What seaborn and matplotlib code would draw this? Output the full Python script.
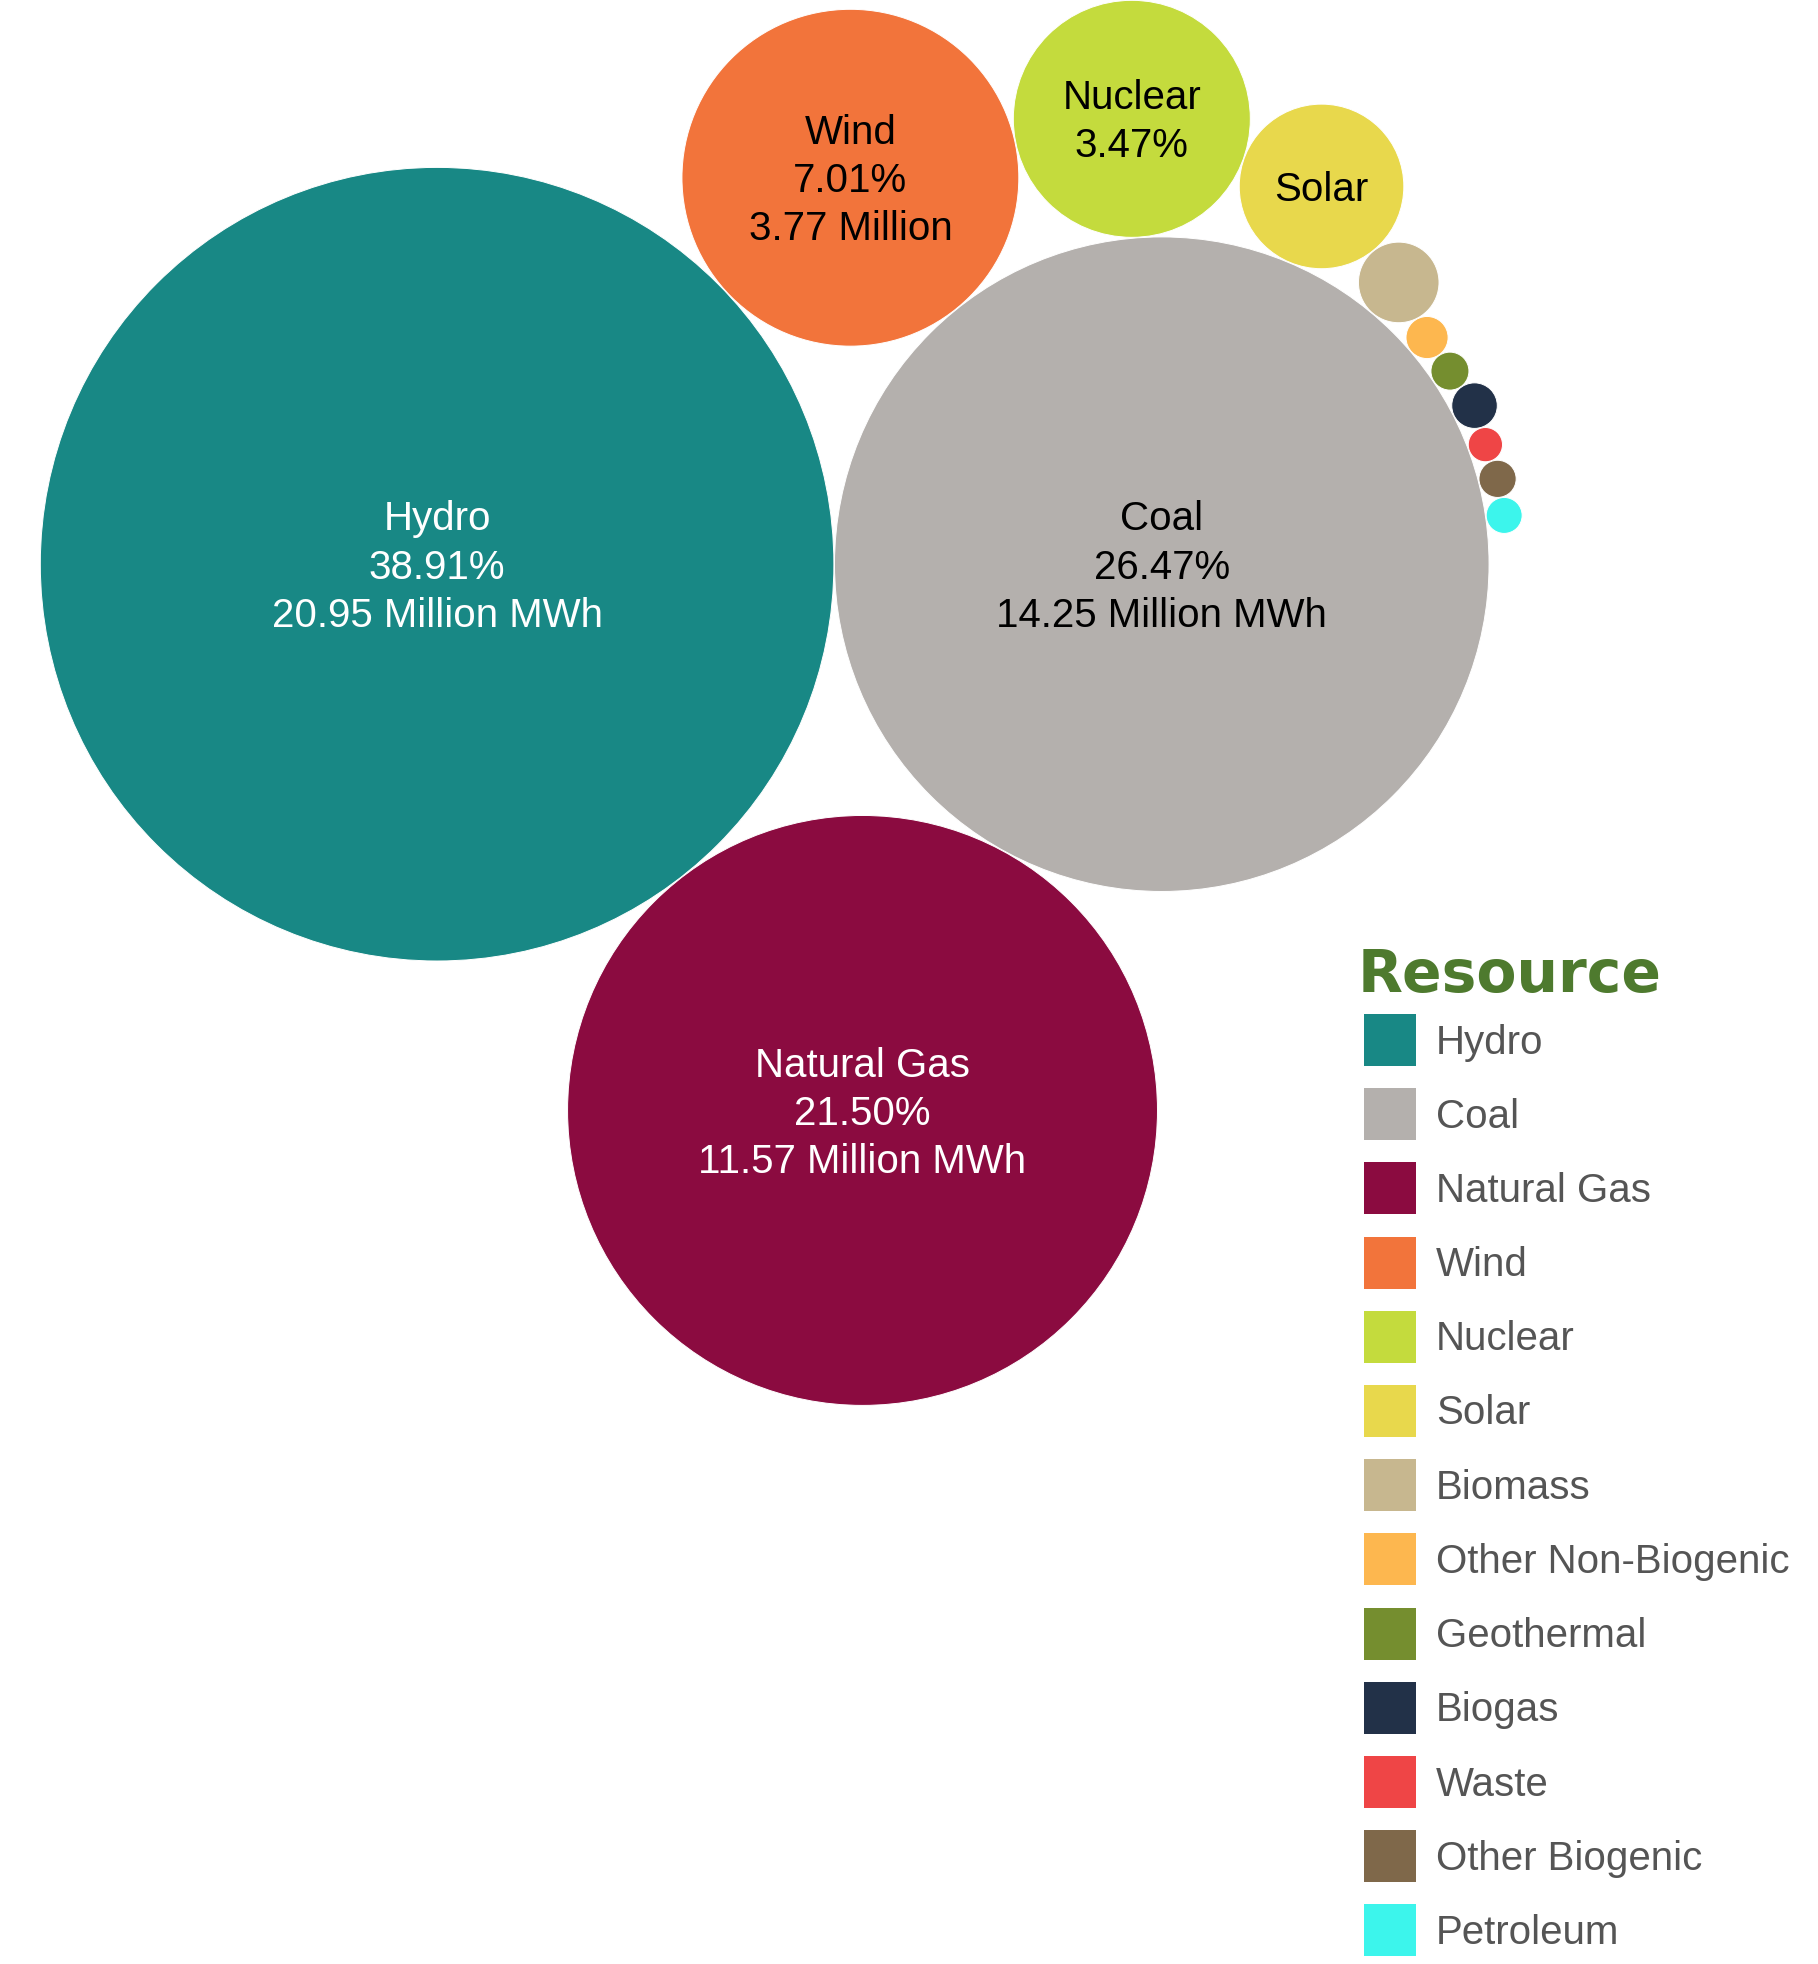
import math

import matplotlib
matplotlib.use("Agg")
import matplotlib.pyplot as plt
import numpy as np
import pandas as pd
import seaborn as sns
from matplotlib.font_manager import FontProperties
from matplotlib.patches import Rectangle
from matplotlib.textpath import TextPath

# ---------------------------------------------------------------- data
resources = [
    "Hydro", "Coal", "Natural Gas", "Wind", "Nuclear", "Solar", "Biomass",
    "Other Non-Biogenic", "Geothermal", "Biogas", "Waste", "Other Biogenic",
    "Petroleum",
]
generation_mwh = [
    20_946_000, 14_249_000, 11_574_000, 3_774_000, 1_868_000, 901_000, 216_000,
    59_000, 48_000, 69_000, 39_000, 46_000, 43_000,
]
colors = [
    "#188885", "#b4b0ad", "#8b0b40", "#f2743b", "#c4db3d", "#e8d84c", "#c7b78f",
    "#fdb74f", "#758e2f", "#223148", "#ef4546", "#7f684a", "#3cf5ec",
]
legend_title = "Resource"

# ---------------------------------------------------------------- layout
W, H, DPI = 1818, 1964, 100
R_MAX = 396.8            # radius of the largest bubble, px
PAD = 0.3                # gap between bubbles, px
ANCHOR = (437.1, 564.2)  # centre of the first bubble, px
LABEL_PT = 29
LINE_PX = 48.3
CAP_PX = 0.716 * LABEL_PT * DPI / 72
LABEL_MARGIN = 24


# ---------------------------------------------------------------- front-chain circle packing
class _Node:
    def __init__(self, c):
        self.c = c
        self.next = None
        self.prev = None


def _place(b, a, c):
    """Put circle c tangent to circles a and b."""
    dx, dy = b[0] - a[0], b[1] - a[1]
    d2 = dx * dx + dy * dy
    if d2:
        a2 = (a[2] + c[2]) ** 2
        b2 = (b[2] + c[2]) ** 2
        if a2 > b2:
            x = (d2 + b2 - a2) / (2 * d2)
            y = math.sqrt(max(0.0, b2 / d2 - x * x))
            c[0] = b[0] - x * dx - y * dy
            c[1] = b[1] - x * dy + y * dx
        else:
            x = (d2 + a2 - b2) / (2 * d2)
            y = math.sqrt(max(0.0, a2 / d2 - x * x))
            c[0] = a[0] + x * dx - y * dy
            c[1] = a[1] + x * dy + y * dx
    else:
        c[0] = a[0] + c[2]
        c[1] = a[1]


def _intersects(a, b):
    dr = a[2] + b[2] - 1e-6
    dx, dy = b[0] - a[0], b[1] - a[1]
    return dr > 0 and dr * dr > dx * dx + dy * dy


def pack_siblings(radii):
    """Place circles in order, each one tangent to the newest circle on the
    front chain and its successor, walking round the cluster."""
    circles = [[0.0, 0.0, float(r)] for r in radii]
    n = len(circles)
    a = circles[0]
    if n == 1:
        return circles
    b = circles[1]
    a[0], b[0], b[1] = -b[2], a[2], 0.0
    if n == 2:
        return circles
    _place(b, a, circles[2])
    a, b, c = _Node(circles[0]), _Node(circles[1]), _Node(circles[2])
    a.next = c.prev = b
    b.next = a.prev = c
    c.next = b.prev = a

    i = 3
    while i < n:
        _place(a.c, b.c, circles[i])
        c = _Node(circles[i])
        j, k = b.next, a.prev
        sj, sk = b.c[2], a.c[2]
        restart = False
        while True:
            if sj <= sk:
                if _intersects(j.c, c.c):
                    b = j
                    a.next, b.prev = b, a
                    restart = True
                    break
                sj += j.c[2]
                j = j.next
            else:
                if _intersects(k.c, c.c):
                    a = k
                    a.next, b.prev = b, a
                    restart = True
                    break
                sk += k.c[2]
                k = k.prev
            if j is k.next:
                break
        if restart:
            continue
        c.prev, c.next = a, b
        a.next = c
        b.prev = c
        a = c
        i += 1
    return circles


values = np.asarray(generation_mwh, dtype=float)
share = values / values.sum() * 100
radius = R_MAX * np.sqrt(values / values.max())
packed = pack_siblings(radius + PAD)
dx0 = ANCHOR[0] - packed[0][0]
dy0 = ANCHOR[1] - packed[0][1]

df = pd.DataFrame({
    "resource": resources,
    "value": values,
    "share": share,
    "r": radius,
    "x": [p[0] + dx0 for p in packed],
    "y": [p[1] + dy0 for p in packed],
})

# ---------------------------------------------------------------- figure
sns.set_theme(style="white")
plt.rcParams["font.family"] = ["Liberation Sans", "DejaVu Sans"]

fig = plt.figure(figsize=(W / DPI, H / DPI), dpi=DPI)
ax = fig.add_axes([0, 0, 1, 1])

# marker area in pt^2 is proportional to the value
smax = (2 * R_MAX * 72 / DPI) ** 2
sns.scatterplot(
    data=df, x="x", y="y", hue="resource", hue_order=resources,
    palette=dict(zip(resources, colors)),
    size="value", sizes=(0, smax), size_norm=(0, values.max()),
    edgecolor="white", linewidth=0.7, legend=False, ax=ax, zorder=2,
)
ax.set_xlim(0, W)
ax.set_ylim(H, 0)
ax.set_aspect("equal")
ax.axis("off")

# ---------------------------------------------------------------- bubble labels
label_font = FontProperties(family="Liberation Sans", size=LABEL_PT)


def text_width(s):
    return TextPath((0, 0), s, prop=label_font).get_extents().width * DPI / 72


def text_color(hex_color):
    r, g, b = (int(hex_color[i:i + 2], 16) for i in (1, 3, 5))
    return "black" if (299 * r + 587 * g + 114 * b) / 1000 > 128 else "white"


for row, col in zip(df.itertuples(), colors):
    candidates = [
        row.resource,
        f"{row.share:.2f}%",
        f"{row.value / 1e6:.2f} Million MWh",
    ]
    n = min(len(candidates), int(row.r // LINE_PX))
    lines = []
    for k in range(n):
        dy = (k - (n - 1) / 2) * LINE_PX
        half = abs(dy) + CAP_PX / 2
        avail = 2 * math.sqrt(max(row.r ** 2 - half ** 2, 0)) - LABEL_MARGIN
        words = candidates[k].split()
        while words and text_width(" ".join(words)) > avail:
            words.pop()
        if not words:
            break
        lines.append(" ".join(words))
    m = len(lines)
    for k, line in enumerate(lines):
        yc = row.y + (k - (m - 1) / 2) * LINE_PX
        ax.text(row.x, yc + CAP_PX / 2, line, ha="center", va="baseline",
                fontsize=LABEL_PT, color=text_color(col),
                family="Liberation Sans", zorder=3)

# ---------------------------------------------------------------- legend
LEG_X, LEG_Y0, LEG_STEP, SQ = 1364, 1040, 74.2, 52
ax.text(LEG_X - 6, 991.7, legend_title, ha="left", va="baseline",
        fontsize=42, fontweight="bold", family="DejaVu Sans", color="#4e7a2e")
for i, (name, col) in enumerate(zip(resources, colors)):
    yc = LEG_Y0 + i * LEG_STEP
    ax.add_patch(Rectangle((LEG_X, yc - SQ / 2), SQ, SQ, facecolor=col,
                           edgecolor="none", zorder=2))
    ax.text(LEG_X + SQ + 20, yc + 13.5, name, ha="left", va="baseline",
            fontsize=LABEL_PT, color="#555555", family="Liberation Sans")

fig.savefig("out.png", dpi=DPI)
